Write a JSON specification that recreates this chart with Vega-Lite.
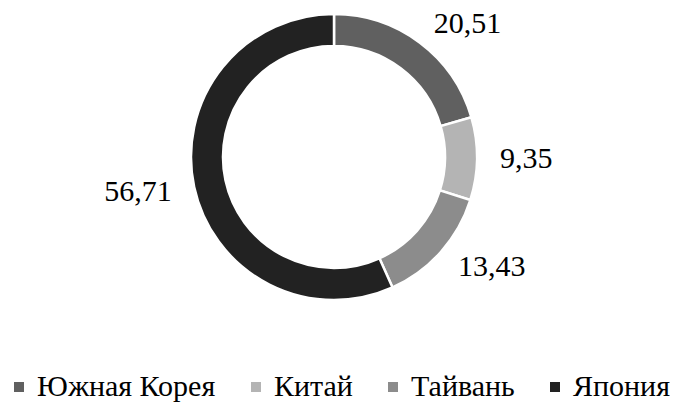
{
  "$schema": "https://vega.github.io/schema/vega-lite/v6.json",
  "width": 668,
  "height": 314,
  "padding": 0,
  "background": "white",
  "config": {
    "view": {"stroke": null},
    "font": "Liberation Serif",
    "locale": {"number": {"decimal": ",", "thousands": " ", "grouping": [3], "currency": ["", ""]}}
  },
  "data": {
    "values": [
      {"country": "Южная Корея", "value": 20.51, "ord": 1},
      {"country": "Китай", "value": 9.35, "ord": 2},
      {"country": "Тайвань", "value": 13.43, "ord": 3},
      {"country": "Япония", "value": 56.71, "ord": 4}
    ]
  },
  "encoding": {
    "theta": {"field": "value", "type": "quantitative", "stack": true},
    "order": {"field": "ord", "type": "quantitative"}
  },
  "layer": [
    {
      "mark": {"type": "arc", "innerRadius": 111, "outerRadius": 143, "stroke": "white", "strokeWidth": 2.5},
      "encoding": {
        "color": {
          "field": "country",
          "type": "nominal",
          "scale": {
            "domain": ["Южная Корея", "Китай", "Тайвань", "Япония"],
            "range": ["#606060", "#b4b4b4", "#8c8c8c", "#222222"]
          },
          "legend": {
            "title": null,
            "orient": "none",
            "direction": "horizontal",
            "legendX": 4,
            "legendY": 372,
            "padding": 0,
            "symbolType": "square",
            "symbolSize": 100,
            "symbolStrokeWidth": 0,
            "labelFont": "Liberation Serif",
            "labelFontSize": 30,
            "labelColor": "#000000",
            "labelOffset": 3,
            "columnPadding": 25,
            "labelLimit": 400
          }
        }
      }
    },
    {
      "mark": {
        "type": "text",
        "radius": 166,
        "font": "Liberation Serif",
        "fontSize": 30,
        "color": "#000000",
        "baseline": "middle",
        "align": {"expr": "datum.country === 'Япония' ? 'right' : 'left'"}
      },
      "encoding": {
        "text": {"field": "value", "type": "quantitative", "format": ".2f"}
      }
    }
  ]
}
